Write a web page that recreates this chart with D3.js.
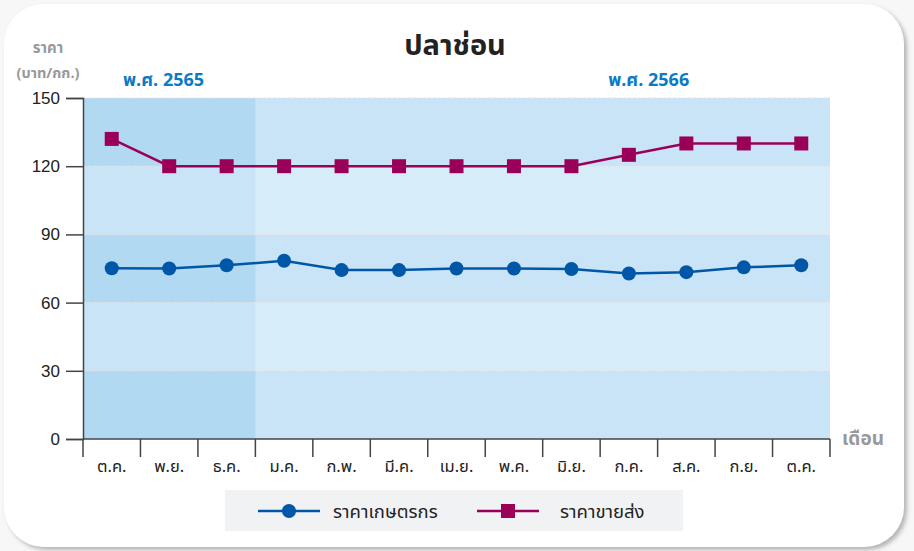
<!DOCTYPE html>
<html>
<head>
<meta charset="utf-8">
<script src="https://d3js.org/d3.v7.min.js"></script>
<style>
  body { margin: 0; background: #f7f7f7; }
  svg { display: block; font-family: "Noto Sans Thai", "Noto Sans", Tahoma, sans-serif; }
</style>
</head>
<body>
<svg id="chart" width="914" height="551"></svg>
<script>
// data
var months = ["ต.ค.", "พ.ย.", "ธ.ค.", "ม.ค.", "ก.พ.", "มี.ค.", "เม.ย.", "พ.ค.", "มิ.ย.", "ก.ค.", "ส.ค.", "ก.ย.", "ต.ค."];
var farmerPrice = [75.1, 75.0, 76.4, 78.4, 74.3, 74.3, 75.0, 75.0, 74.8, 72.8, 73.4, 75.5, 76.4];
var wholesalePrice = [132, 120, 120, 120, 120, 120, 120, 120, 120, 125, 130, 130, 130];
var yTicks = [0, 30, 60, 90, 120, 150];
var years = [{ label: "พ.ศ. 2565", from: 0, to: 2 }, { label: "พ.ศ. 2566", from: 3, to: 12 }];
var seriesNames = ["ราคาเกษตรกร", "ราคาขายส่ง"];

var svg = d3.select("#chart");
var margin = { top: 98, right: 84, bottom: 112, left: 83 };
var width = 914 - margin.left - margin.right;
var height = 551 - margin.top - margin.bottom;

var blue = "#0057a8", magenta = "#9b0058";

// card
var defs = svg.append("defs");
var f = defs.append("filter").attr("id", "shadow").attr("x", "-5%").attr("y", "-5%").attr("width", "110%").attr("height", "110%");
f.append("feDropShadow").attr("dx", 3).attr("dy", 3).attr("stdDeviation", 2).attr("flood-color", "#888").attr("flood-opacity", 0.6);
svg.append("rect").attr("x", 4).attr("y", 4).attr("width", 900).attr("height", 543)
  .attr("rx", 40).attr("fill", "#fff").attr("filter", "url(#shadow)");

var g = svg.append("g").attr("transform", "translate(" + margin.left + "," + margin.top + ")");

var x = d3.scaleBand().domain(months.map(function(d, i) { return i; })).range([0, width]);
var y = d3.scaleLinear().domain([0, 150]).range([height, 0]);

// bands
var bands = d3.pairs(yTicks);
g.selectAll(".band").data(bands).enter().append("rect")
  .attr("x", 0).attr("width", width)
  .attr("y", function(d) { return y(d[1]); })
  .attr("height", function(d) { return y(d[0]) - y(d[1]); })
  .attr("fill", function(d, i) { return i % 2 ? "#d7ecf9" : "#c8e4f6"; });

// 2565 shading
var y0 = years[0];
g.selectAll(".band0").data(bands).enter().append("rect")
  .attr("x", x(y0.from)).attr("width", x(y0.to) + x.bandwidth() - x(y0.from))
  .attr("y", function(d) { return y(d[1]); })
  .attr("height", function(d) { return y(d[0]) - y(d[1]); })
  .attr("fill", function(d, i) { return i % 2 ? "#c8e4f6" : "#b2d9f2"; });

// grid
g.selectAll(".grid").data(yTicks.slice(1)).enter().append("line")
  .attr("x1", 0).attr("x2", width)
  .attr("y1", function(d) { return y(d); }).attr("y2", function(d) { return y(d); })
  .attr("stroke", "#e2e2e2").attr("stroke-width", 1).attr("stroke-dasharray", "3,2");

// axes
var yAxis = g.append("g").call(d3.axisLeft(y).tickValues(yTicks).tickSize(17).tickPadding(6));
yAxis.select(".domain").attr("stroke", "#444").attr("stroke-width", 1.5);
yAxis.selectAll(".tick line").attr("stroke", "#444").attr("stroke-width", 1.5);
yAxis.selectAll("text").attr("font-size", "17px").attr("fill", "#222");

var xAxis = g.append("g").attr("transform", "translate(0," + height + ")");
xAxis.append("line").attr("x1", 0).attr("x2", width).attr("stroke", "#444").attr("stroke-width", 1.5);
xAxis.selectAll(".tk").data(d3.range(months.length + 1)).enter().append("line")
  .attr("x1", function(d) { return d < months.length ? x(d) : width; })
  .attr("x2", function(d) { return d < months.length ? x(d) : width; })
  .attr("y1", 0).attr("y2", 18).attr("stroke", "#444").attr("stroke-width", 1.5);
xAxis.selectAll(".lb").data(months).enter().append("text")
  .attr("x", function(d, i) { return x(i) + x.bandwidth() / 2; })
  .attr("y", 33).attr("text-anchor", "middle")
  .attr("font-size", "16.5px").attr("fill", "#222").text(function(d) { return d; });

// lines
var line = d3.line()
  .x(function(d, i) { return x(i) + x.bandwidth() / 2; })
  .y(function(d) { return y(d); });

g.append("path").datum(wholesalePrice).attr("d", line)
  .attr("fill", "none").attr("stroke", magenta).attr("stroke-width", 2.5);
g.selectAll(".sq").data(wholesalePrice).enter().append("rect")
  .attr("x", function(d, i) { return x(i) + x.bandwidth() / 2 - 7; })
  .attr("y", function(d) { return y(d) - 7; })
  .attr("width", 14).attr("height", 14).attr("fill", magenta);

g.append("path").datum(farmerPrice).attr("d", line)
  .attr("fill", "none").attr("stroke", blue).attr("stroke-width", 2.5);
g.selectAll(".dot").data(farmerPrice).enter().append("circle")
  .attr("cx", function(d, i) { return x(i) + x.bandwidth() / 2; })
  .attr("cy", function(d) { return y(d); })
  .attr("r", 7).attr("fill", blue);

// titles
svg.append("text").attr("x", 455).attr("y", 55).attr("text-anchor", "middle")
  .attr("font-size", "29px").attr("font-weight", "bold").attr("fill", "#222").text("ปลาช่อน");
svg.append("text").attr("x", 48).attr("y", 53).attr("text-anchor", "middle")
  .attr("font-size", "15px").attr("font-weight", "bold").attr("fill", "#999").text("ราคา");
svg.append("text").attr("x", 48).attr("y", 78).attr("text-anchor", "middle")
  .attr("font-size", "14.5px").attr("font-weight", "bold").attr("fill", "#999").text("(บาท/กก.)");
svg.append("text").attr("x", 863).attr("y", 445).attr("text-anchor", "middle")
  .attr("font-size", "19px").attr("font-weight", "bold").attr("fill", "#999").text("เดือน");

svg.selectAll(".yr").data(years).enter().append("text")
  .attr("x", function(d, i) { return i === 0 ? margin.left + 40 : margin.left + x(9) + 8; })
  .attr("y", 86).attr("font-size", "18px").attr("font-weight", "bold").attr("fill", "#0a7bc4")
  .text(function(d) { return d.label; });

// legend
var lg = svg.append("g").attr("transform", "translate(225,490)");
lg.append("rect").attr("width", 458).attr("height", 41).attr("fill", "#f1f2f4");
var items = [{ name: seriesNames[0], color: blue, shape: "circle", x: 33 }, { name: seriesNames[1], color: magenta, shape: "square", x: 252 }];
items.forEach(function(it) {
  var ig = lg.append("g").attr("transform", "translate(" + it.x + ",21)");
  ig.append("line").attr("x1", 0).attr("x2", 62).attr("stroke", it.color).attr("stroke-width", 2.5);
  if (it.shape === "circle") ig.append("circle").attr("cx", 31).attr("r", 7).attr("fill", it.color);
  else ig.append("rect").attr("x", 24).attr("y", -7).attr("width", 14).attr("height", 14).attr("fill", it.color);
  ig.append("text").attr("x", it.shape === "circle" ? 75 : 83).attr("y", 7).attr("font-size", "18.5px").attr("fill", "#222").text(it.name);
});
</script>
</body>
</html>
